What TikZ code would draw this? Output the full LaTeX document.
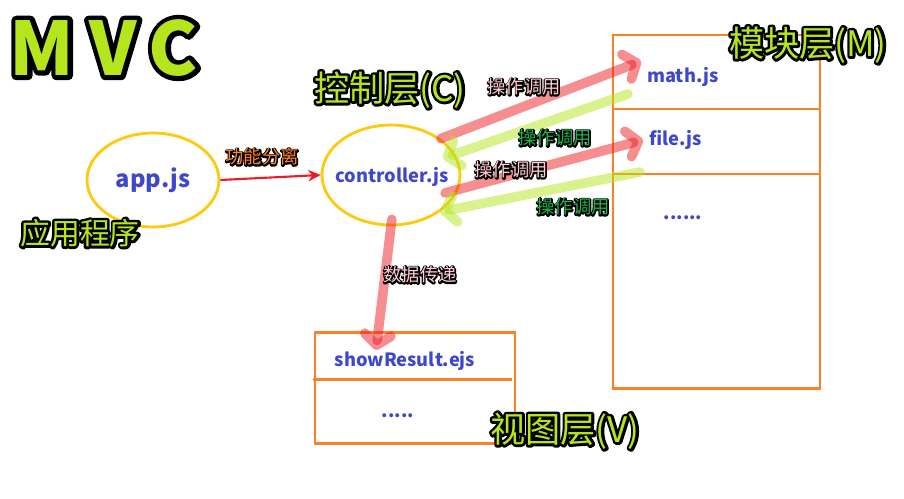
\documentclass[tikz,border=0pt]{standalone}
\usepackage{fontspec}
\setmainfont{Noto Sans CJK SC}
\usetikzlibrary{arrows.meta,shapes.geometric}
\definecolor{boxorange}{HTML}{FF7F27}
\definecolor{ringgold}{HTML}{FFC90E}
\definecolor{fileblue}{HTML}{3F48CC}
\definecolor{callred}{HTML}{ED1C24}
\definecolor{backlime}{HTML}{B5E61D}
\definecolor{tagpink}{HTML}{FFCCD6}
\definecolor{taggreen}{HTML}{22B14C}
% outlined text: #1 stroke width (bp), #2 fill colour, #3 text
\newcommand{\ringtext}[3]{%
  \leavevmode
  \rlap{\color{black}\special{pdf:literal direct q 2 Tr #1 w 1 J 1 j}#3\special{pdf:literal direct Q}}%
  \textcolor{#2}{#3}}

\begin{document}
\begin{tikzpicture}[x=0.02cm, y=-0.02cm,
  layer/.style={inner sep=0pt, font=\fontsize{20}{24}\selectfont},
  tag/.style={inner sep=0pt, font=\fontsize{10.4}{12}\selectfont},
  file/.style={font=\bfseries\fontsize{10.4}{12}\selectfont, text=fileblue},
  unit/.style={ellipse, draw=ringgold, line width=1.6pt, inner sep=0pt},
  module/.style={draw=boxorange, line width=1.7pt},
  flow/.style={draw=callred, line width=1.2pt, -{Stealth[length=7pt, width=6.5pt]}},
  call/.style={line width=5.5pt, draw=callred, draw opacity=0.5, line cap=round,
    -{Straight Barb[length=6pt, width=15pt, round]}},
  back/.style={call, draw=backlime}
]
\useasboundingbox (0,0) rectangle (904,498);

% boxes for model and view layers
\draw[module] (613,35) rectangle (820,388);
\draw[module] (613,109) -- (820,109);
\draw[module] (613,174) -- (820,174);
\draw[module] (315,332) rectangle (515,443);
\draw[module] (313,379) -- (512,379);

% application and controller
\node[unit, minimum width=2.64cm, minimum height=1.88cm] (app) at (153,180) {};
\node[file, font=\bfseries\fontsize{13.5}{16}\selectfont] (apptxt) at (app) {app.js};
\node[unit, minimum width=2.76cm, minimum height=2cm] (ctrl) at (391,175) {};
\node[file] (ctrltxt) at (392,177) {controller.js};

% modules and views
\node[file, anchor=west] (math) at (641,77) {math.js};
\node[file, anchor=west] (file) at (643,140) {file.js};
\node[file] (mmore) at (683,218) {......};
\node[file] (res) at (405,361) {showResult.ejs};
\node[file] (vmore) at (398,416) {.....};

\coordinate (g1s) at (628,94);
\coordinate (g2s) at (640,172);
\coordinate (vtip) at (376,350);

% connectors
\draw[flow] (app.east) -- (ctrl.west);
\draw[call] (ctrl.north east) -- (math.north west);
\draw[back, shorten >=-0.26cm] (g1s) -- (ctrl.18);
\draw[call, shorten <=-0.28cm] (ctrl.-12) -- (file.west);
\draw[back] (g2s) -- (ctrl.-37);
\draw[call, shorten <=-0.14cm] (ctrl.south) -- (vtip);

% labels on connectors
\node[tag] (split) at (262,157) {\ringtext{1.6}{boxorange}{功能分离}};
\node[tag] (call1) at (524,87) {\ringtext{1.6}{tagpink}{操作调用}};
\node[tag] (back1) at (555,138) {\ringtext{1.6}{taggreen}{操作调用}};
\node[tag] (call2) at (511,170) {\ringtext{1.6}{tagpink}{操作调用}};
\node[tag] (back2) at (573,207) {\ringtext{1.6}{taggreen}{操作调用}};
\node[tag] (pass) at (420,275) {\ringtext{1.6}{tagpink}{数据传递}};

% layer titles
\node[layer, font=\bfseries\fontsize{42}{48}\selectfont] (mvc) at (104,48)
  {\ringtext{5.4}{backlime}{M\hspace{0.3cm}V\hspace{0.24cm}C}};
\node[layer] (ctitle) at (390,90) {\ringtext{3}{backlime}{控制层(C)}};
\node[layer] (mtitle) at (808,45) {\ringtext{3}{backlime}{模块层(M)}};
\node[layer, font=\fontsize{17}{20}\selectfont] (atitle) at (80,233) {\ringtext{3}{backlime}{应用程序}};
\node[layer] (vtitle) at (565,431) {\ringtext{3}{backlime}{视图层(V)}};
\end{tikzpicture}
\end{document}
